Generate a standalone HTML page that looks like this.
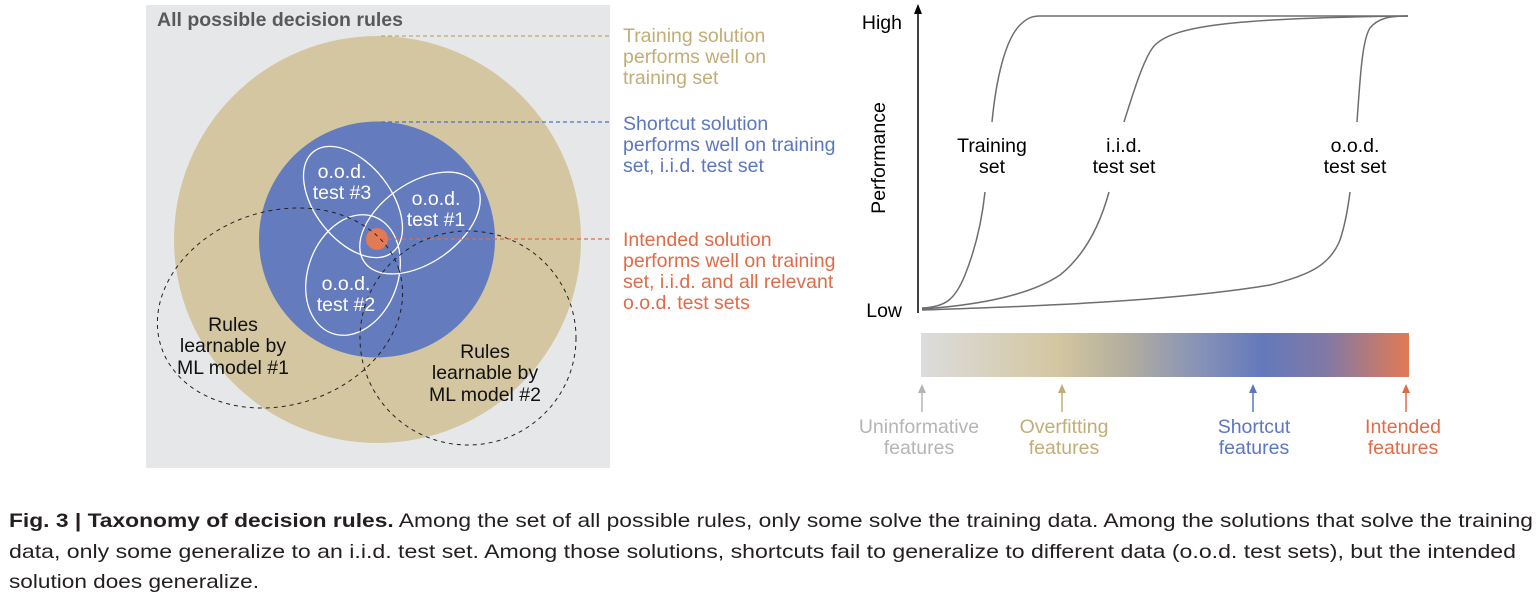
<!DOCTYPE html>
<html><head><meta charset="utf-8"><style>
html,body{margin:0;padding:0;background:#fff;}
svg{display:block;}
text{font-family:"Liberation Sans",Arial,sans-serif;}
</style></head><body>
<svg width="1540" height="601" viewBox="0 0 1540 601" xmlns="http://www.w3.org/2000/svg">
<defs>
<linearGradient id="g" x1="0" x2="1" y1="0" y2="0">
<stop offset="0" stop-color="#dcdcdc"/>
<stop offset="0.28" stop-color="#d3c6a0"/>
<stop offset="0.42" stop-color="#b3ae9e"/>
<stop offset="0.56" stop-color="#8994b6"/>
<stop offset="0.70" stop-color="#6479bb"/>
<stop offset="0.83" stop-color="#8179a6"/>
<stop offset="1" stop-color="#e17a55"/>
</linearGradient>
</defs>
<rect x="146" y="5" width="464" height="463" fill="#e6e7e8"/>
<text x="157" y="26" font-size="19.5" font-weight="bold" fill="#58595b">All possible decision rules</text>
<circle cx="377.5" cy="239.5" r="203.5" fill="#d3c6a1"/>
<circle cx="377" cy="239.5" r="118" fill="#647bbd"/>
<g fill="none" stroke="#fff" stroke-width="1.3">
<ellipse cx="353" cy="202" rx="64" ry="38" transform="rotate(52 353 202)"/>
<ellipse cx="420" cy="223" rx="68" ry="40" transform="rotate(-35 420 223)"/>
<ellipse cx="353" cy="275" rx="62" ry="45" transform="rotate(-70 353 275)"/>
</g>
<circle cx="377" cy="239" r="11" fill="#e17a55"/>
<g fill="none" stroke="#222" stroke-width="1" stroke-dasharray="4,4">
<ellipse cx="280" cy="308" rx="125" ry="97" transform="rotate(-18 280 308)"/>
<ellipse cx="468" cy="338" rx="108" ry="107"/>
</g>
<g font-size="19.5" fill="#fff" text-anchor="middle">
<text x="342" y="178">o.o.d.</text><text x="342" y="199">test #3</text>
<text x="436" y="205">o.o.d.</text><text x="436" y="226">test #1</text>
<text x="346" y="290">o.o.d.</text><text x="346" y="311">test #2</text>
</g>
<g font-size="19.5" fill="#111" text-anchor="middle">
<text x="233" y="331">Rules</text><text x="233" y="352">learnable by</text><text x="233" y="374">ML model #1</text>
<text x="485" y="358">Rules</text><text x="485" y="379">learnable by</text><text x="485" y="401">ML model #2</text>
</g>
<g stroke-width="1.2" stroke-dasharray="4,3" fill="none">
<line x1="381" y1="36" x2="612" y2="36" stroke="#bfa96e"/>
<line x1="381" y1="122" x2="612" y2="122" stroke="#4f70c0"/>
<line x1="381" y1="239" x2="612" y2="239" stroke="#e06b48"/>
</g>
<g font-size="19.5">
<g fill="#c3ad76"><text x="623" y="42">Training solution</text><text x="623" y="63">performs well on</text><text x="623" y="84">training set</text></g>
<g fill="#5b76c2"><text x="623" y="130">Shortcut solution</text><text x="623" y="151">performs well on training</text><text x="623" y="172">set, i.i.d. test set</text></g>
<g fill="#e06b48"><text x="623" y="246">Intended solution</text><text x="623" y="267">performs well on training</text><text x="623" y="288">set, i.i.d. and all relevant</text><text x="623" y="309">o.o.d. test sets</text></g>
</g>
<line x1="918" y1="313" x2="918" y2="12" stroke="#000" stroke-width="1.5"/>
<polygon points="918,4 914,14 922,14" fill="#000"/>
<text x="902" y="29" font-size="19.5" text-anchor="end" fill="#000">High</text>
<text x="902" y="317" font-size="19.5" text-anchor="end" fill="#000">Low</text>
<text transform="translate(885 158) rotate(-90)" font-size="19.5" text-anchor="middle" fill="#000">Performance</text>
<g fill="none" stroke="#6d6e71" stroke-width="1.5">
<path d="M922,308 C945,307 955,300 965,275 C975,250 982,220 985,192"/>
<path d="M992,122 C996,80 1005,40 1020,25 C1027,18 1032,16 1040,16 L1408,16"/>
<path d="M922,309 C980,305 1030,295 1060,275 C1085,255 1100,225 1109,192"/>
<path d="M1124,122 C1134,90 1145,55 1155,45 C1175,25 1240,18 1408,16"/>
<path d="M922,310 C1050,306 1180,300 1270,285 C1310,275 1330,265 1340,240 C1345,225 1348,208 1350,192"/>
<path d="M1357,122 C1360,80 1362,40 1370,28 C1378,18 1390,16 1408,16"/>
</g>
<g font-size="19.5" fill="#000" text-anchor="middle">
<text x="992" y="152">Training</text><text x="992" y="173">set</text>
<text x="1124" y="152">i.i.d.</text><text x="1124" y="173">test set</text>
<text x="1355" y="152">o.o.d.</text><text x="1355" y="173">test set</text>
</g>
<rect x="921" y="333" width="488" height="44" fill="url(#g)"/>
<g stroke-width="1.5">
<line x1="922" y1="412" x2="922" y2="388" stroke="#b5b5b5"/>
<line x1="1062" y1="412" x2="1062" y2="388" stroke="#c3ad76"/>
<line x1="1253" y1="412" x2="1253" y2="388" stroke="#5b76c2"/>
<line x1="1406" y1="412" x2="1406" y2="388" stroke="#e06b48"/>
</g>
<polygon points="922,384 918,393 926,393" fill="#b5b5b5"/>
<polygon points="1062,384 1058,393 1066,393" fill="#c3ad76"/>
<polygon points="1253,384 1249,393 1257,393" fill="#5b76c2"/>
<polygon points="1406,384 1402,393 1410,393" fill="#e06b48"/>
<g font-size="19.5" text-anchor="middle">
<g fill="#b5b5b5"><text x="919" y="433">Uninformative</text><text x="919" y="454">features</text></g>
<g fill="#c3ad76"><text x="1064" y="433">Overfitting</text><text x="1064" y="454">features</text></g>
<g fill="#5b76c2"><text x="1254" y="433">Shortcut</text><text x="1254" y="454">features</text></g>
<g fill="#e06b48"><text x="1403" y="433">Intended</text><text x="1403" y="454">features</text></g>
</g>
<g font-size="19.5" fill="#231f20">
<text x="9" y="527" textLength="1524" lengthAdjust="spacingAndGlyphs"><tspan font-weight="bold">Fig. 3 | Taxonomy of decision rules.</tspan> Among the set of all possible rules, only some solve the training data. Among the solutions that solve the training</text>
<text x="9" y="558" textLength="1507" lengthAdjust="spacingAndGlyphs">data, only some generalize to an i.i.d. test set. Among those solutions, shortcuts fail to generalize to different data (o.o.d. test sets), but the intended</text>
<text x="9" y="588" textLength="250" lengthAdjust="spacingAndGlyphs">solution does generalize.</text>
</g>
</svg>
</body></html>
